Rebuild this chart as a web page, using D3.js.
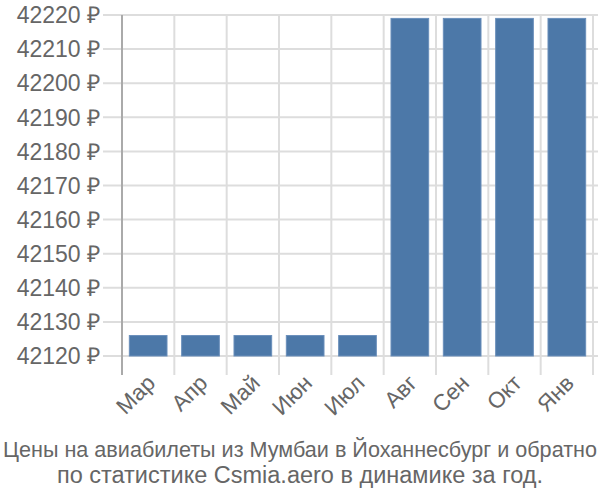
<!DOCTYPE html>
<html><head><meta charset="utf-8">
<script src="https://cdn.jsdelivr.net/npm/d3@7"></script>
<style>body{margin:0;background:#fff}</style>
</head><body>
<svg id="c" width="600" height="500"></svg>
<script>
const categories = ["Мар","Апр","Май","Июн","Июл","Авг","Сен","Окт","Янв"];
const values = [42126,42126,42126,42126,42126,42219,42219,42219,42219];
const yTicks = [42120,42130,42140,42150,42160,42170,42180,42190,42200,42210,42220];
const titleLines = ["Цены на авиабилеты из Мумбаи в Йоханнесбург и обратно","по статистике Csmia.aero в динамике за год."];

(function(){
const svg = d3.select("#c");
const pL = 122, pR = 593, pT = 15, pB = 375;
const y = d3.scaleLinear().domain([42120,42220]).range([356,15]);
const x = d3.scaleBand().domain(categories).range([pL,pR]).paddingInner(0.28).paddingOuter(0.14);
const font = "'Liberation Sans', Arial, sans-serif";

svg.append("g").selectAll("line").data(yTicks).join("line")
  .attr("x1",103).attr("x2",598).attr("y1",d=>y(d)).attr("y2",d=>y(d))
  .attr("stroke","#dddddd").attr("stroke-width",2);
const bounds = categories.map((c,i)=>pL + i*(pR-pL)/categories.length).concat([pR]);
svg.append("g").selectAll("line").data(bounds.slice(1)).join("line")
  .attr("x1",d=>d).attr("x2",d=>d).attr("y1",pT).attr("y2",pB)
  .attr("stroke","#dddddd").attr("stroke-width",2);
svg.append("line").attr("x1",pL).attr("x2",pL).attr("y1",pT).attr("y2",pB)
  .attr("stroke","#aaaaaa").attr("stroke-width",2);

svg.append("g").selectAll("rect").data(categories).join("rect")
  .attr("x",d=>x(d)).attr("width",x.bandwidth())
  .attr("y",(d,i)=>y(values[i])).attr("height",(d,i)=>y(42120)-y(values[i]))
  .attr("fill","#4c78a8").attr("stroke","#6a8fbb").attr("stroke-width",1);

svg.append("g").selectAll("text").data(yTicks).join("text")
  .attr("x",100).attr("y",d=>y(d)).attr("dy","0.36em").attr("text-anchor","end")
  .attr("font-family",font).attr("font-size",23).attr("fill","#666")
  .text(d=>d+" ₽");

svg.append("g").selectAll("text").data(categories).join("text")
  .attr("transform",d=>`translate(${x(d)+x.bandwidth()/2-3},${373}) rotate(-45)`)
  .attr("text-anchor","end").attr("dy","0.72em")
  .attr("font-family",font).attr("font-size",22.5).attr("fill","#666")
  .text(d=>d);

const tt = svg.append("g").selectAll("text").data(titleLines).join("text")
  .attr("x",300).attr("y",(d,i)=>457+i*26).attr("text-anchor","middle")
  .attr("font-family",font).attr("font-size",(d,i)=>i===0?22:23.5).attr("fill","#666")
  .text(d=>d);
tt.filter((d,i)=>i===0).attr("textLength",594).attr("lengthAdjust","spacingAndGlyphs");
})();
</script>
</body></html>
